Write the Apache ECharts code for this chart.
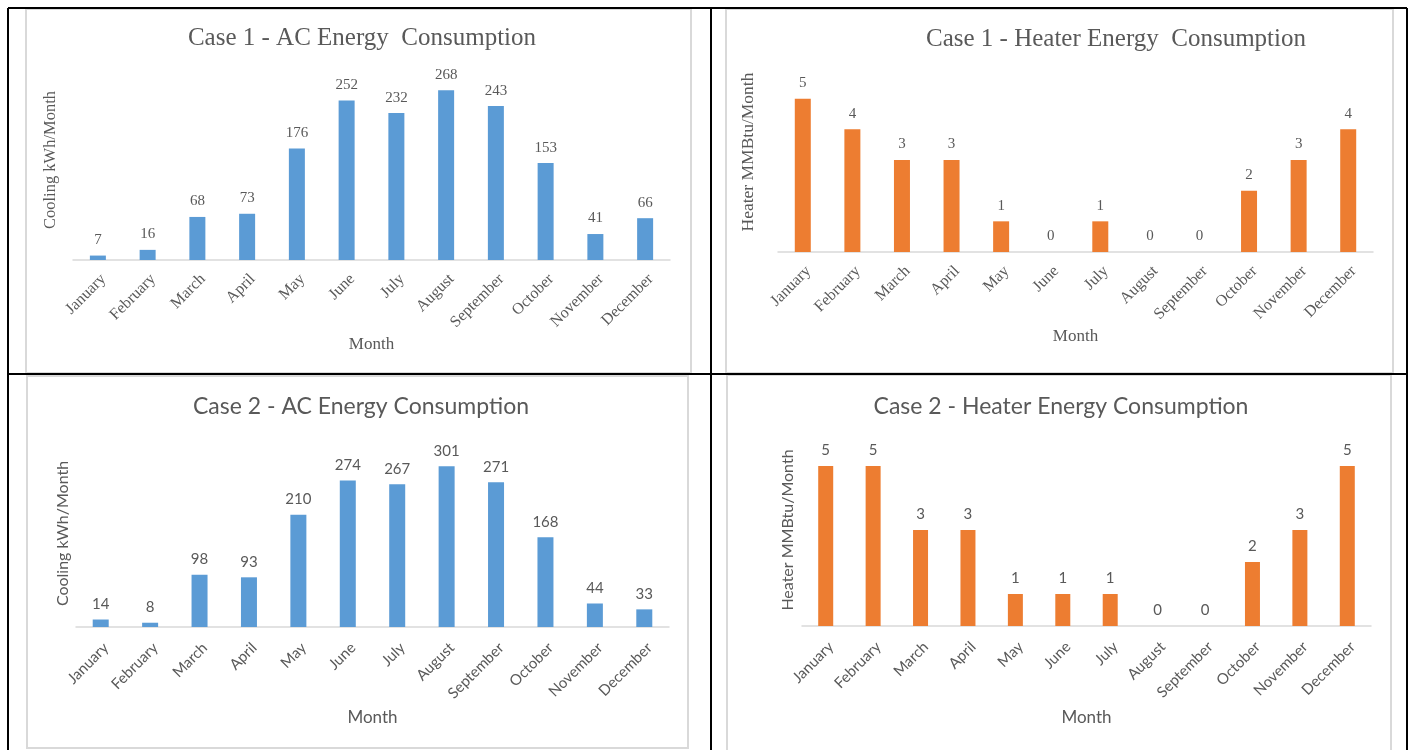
<!DOCTYPE html>
<html>
<head>
<meta charset="utf-8">
<script src="https://cdn.jsdelivr.net/npm/echarts@6/dist/echarts.min.js"></script>
<style>
  html, body { margin: 0; padding: 0; background: #fff; }
  #chart { width: 1413px; height: 750px; }
</style>
</head>
<body>
<div id="chart"></div>
<script>
// Monthly categories shared by all four panels
const months = ['January', 'February', 'March', 'April', 'May', 'June',
  'July', 'August', 'September', 'October', 'November', 'December'];

// Case 1 results
const case1Cooling = [7, 16, 68, 73, 176, 252, 232, 268, 243, 153, 41, 66];
const case1Heating = [5, 4, 3, 3, 1, 0, 1, 0, 0, 2, 3, 4];

// Case 2 results
const case2Cooling = [14, 8, 98, 93, 210, 274, 267, 301, 271, 168, 44, 33];
const case2Heating = [5, 5, 3, 3, 1, 1, 1, 0, 0, 2, 3, 5];

// Value-axis ceilings (axes themselves are hidden)
const axisMax = [300, 6, 350, 6];

const titles = [
  'Case 1 - AC Energy  Consumption',
  'Case 1 - Heater Energy  Consumption',
  'Case 2 - AC Energy Consumption',
  'Case 2 - Heater Energy Consumption'
];
const yNames = ['Cooling kWh/Month', 'Heater MMBtu/Month', 'Cooling kWh/Month', 'Heater MMBtu/Month'];
const seriesData = [case1Cooling, case1Heating, case2Cooling, case2Heating];

const BLUE = '#5B9BD5';
const ORANGE = '#ED7D31';
const TEXT = '#595959';
const SERIF = '"Liberation Serif", "Times New Roman", serif';
const SANS = 'Lato, "Open Sans", sans-serif';

const panels = [
  { grid: { left: 73, right: 1413 - 670, top: 70, bottom: 750 - 260 },
    titleX: 357, titleY: 21, font: SERIF, color: BLUE, titleSize: 25,
    yGap: 14, yPad: [0, 0, 0, 10], ySize: 16.5, xGap: 76, barWidth: 16,
    tickSize: 16, tickMargin: 11, labelSize: 15 },
  { grid: { left: 778, right: 1413 - 1373, top: 68, bottom: 750 - 252 },
    titleX: 1111, titleY: 22, font: SERIF, color: ORANGE, titleSize: 25,
    yGap: 21, yPad: [0, 0, 0, 16], ySize: 17.5, xGap: 76, barWidth: 16,
    tickSize: 16, tickMargin: 11, labelSize: 15 },
  { grid: { left: 76, right: 1413 - 669, top: 440, bottom: 750 - 627 },
    titleX: 356, titleY: 390, font: SANS, color: BLUE, titleSize: 23,
    yGap: 5, yPad: 0, ySize: 16, xGap: 82, barWidth: 16,
    tickSize: 15, tickMargin: 13, labelSize: 15 },
  { grid: { left: 802, right: 1413 - 1371, top: 434, bottom: 750 - 626 },
    titleX: 1056, titleY: 390, font: SANS, color: ORANGE, titleSize: 23,
    yGap: 6, yPad: 0, ySize: 16, xGap: 83, barWidth: 15,
    tickSize: 15, tickMargin: 13, labelSize: 15 }
];

const option = {
  animation: false,
  backgroundColor: '#fff',
  title: panels.map((p, i) => ({
    text: titles[i],
    left: p.titleX,
    top: p.titleY,
    textAlign: 'center',
    textStyle: { fontFamily: p.font, fontSize: p.titleSize, fontWeight: 'normal', color: TEXT }
  })),
  grid: panels.map(p => p.grid),
  xAxis: panels.map((p, i) => ({
    type: 'category',
    gridIndex: i,
    data: months,
    name: 'Month',
    nameLocation: 'middle',
    nameGap: p.xGap,
    nameTextStyle: { fontFamily: p.font, fontSize: 17, color: TEXT },
    axisLine: { lineStyle: { color: '#D9D9D9', width: 1.5 } },
    axisTick: { show: false },
    axisLabel: {
      rotate: 45,
      interval: 0,
      margin: p.tickMargin,
      verticalAlign: 'top',
      fontFamily: p.font,
      fontSize: p.tickSize,
      color: TEXT
    }
  })),
  yAxis: panels.map((p, i) => ({
    type: 'value',
    gridIndex: i,
    min: 0,
    max: axisMax[i],
    name: yNames[i],
    nameLocation: 'middle',
    nameGap: p.yGap,
    nameTextStyle: { fontFamily: p.font, fontSize: p.ySize, color: TEXT, padding: p.yPad },
    axisLine: { show: false },
    axisTick: { show: false },
    axisLabel: { show: false },
    splitLine: { show: false }
  })),
  series: panels.map((p, i) => ({
    type: 'bar',
    xAxisIndex: i,
    yAxisIndex: i,
    data: seriesData[i],
    barWidth: p.barWidth,
    itemStyle: { color: p.color },
    label: {
      show: true,
      position: 'top',
      distance: 8,
      fontFamily: p.font,
      fontSize: p.labelSize,
      color: TEXT
    }
  })),
  graphic: [
    // light chart-area frames
    { type: 'rect', shape: { x: 26, y: 9, width: 665, height: 364 },
      style: { fill: 'none', stroke: '#D9D9D9', lineWidth: 2 }, z: 1 },
    { type: 'rect', shape: { x: 726, y: 9, width: 667, height: 364 },
      style: { fill: 'none', stroke: '#D9D9D9', lineWidth: 2 }, z: 1 },
    { type: 'rect', shape: { x: 27, y: 376, width: 661, height: 372 },
      style: { fill: 'none', stroke: '#D9D9D9', lineWidth: 2 }, z: 1 },
    { type: 'rect', shape: { x: 727, y: 375, width: 664, height: 380 },
      style: { fill: 'none', stroke: '#D9D9D9', lineWidth: 2 }, z: 1 },
    // table rules
    { type: 'line', shape: { x1: 8, y1: 8, x2: 1407, y2: 8 },
      style: { stroke: '#000', lineWidth: 2 }, z: 2 },
    { type: 'line', shape: { x1: 8, y1: 8, x2: 8, y2: 750 },
      style: { stroke: '#000', lineWidth: 2 }, z: 2 },
    { type: 'line', shape: { x1: 1407, y1: 8, x2: 1407, y2: 750 },
      style: { stroke: '#000', lineWidth: 2 }, z: 2 },
    { type: 'line', shape: { x1: 711, y1: 8, x2: 711, y2: 750 },
      style: { stroke: '#000', lineWidth: 2 }, z: 2 },
    { type: 'line', shape: { x1: 8, y1: 374, x2: 1407, y2: 374 },
      style: { stroke: '#000', lineWidth: 2 }, z: 2 }
  ]
};

const chart = echarts.init(document.getElementById('chart'), null, { renderer: 'canvas' });
chart.setOption(option);
</script>
</body>
</html>
